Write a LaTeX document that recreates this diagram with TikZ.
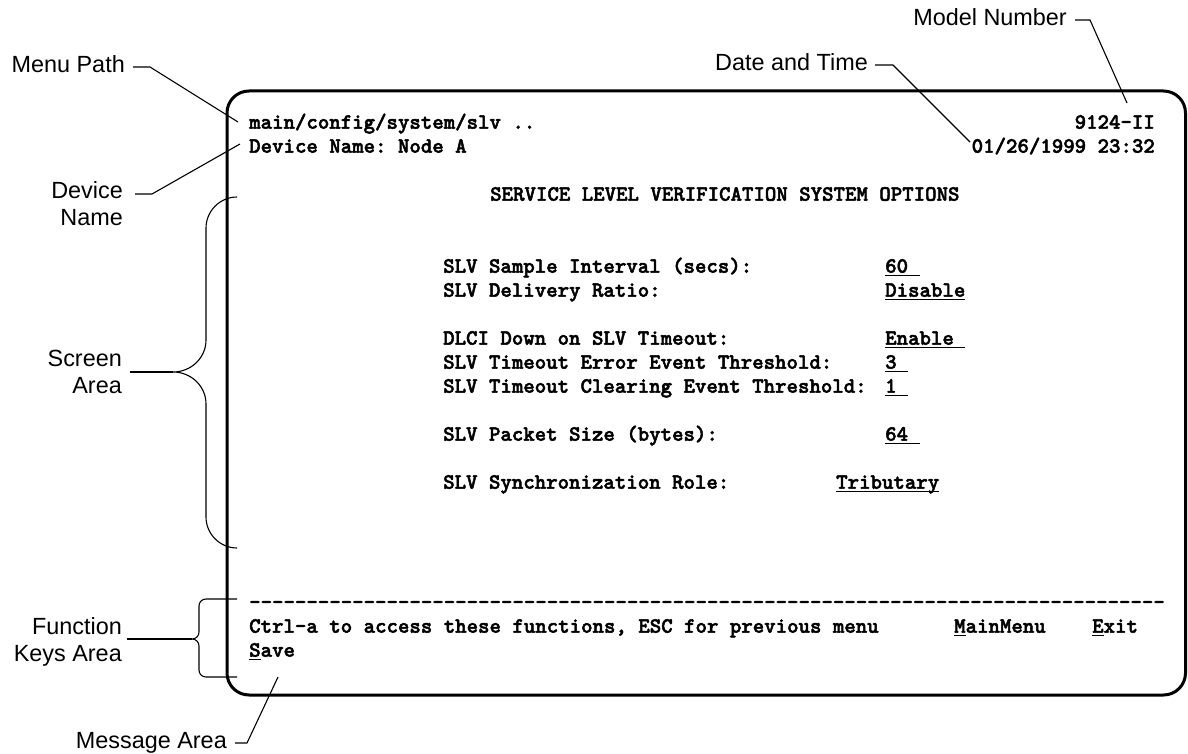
\documentclass[tikz,border=0pt]{standalone}
\usepackage{fontspec}
\setmainfont{Liberation Sans}
\setmonofont{lmmonolt10-bold.otf}[FakeBold=2.2]
\newcommand\ulv[1]{\setbox0\hbox{#1}\rlap{\rule[-3.4pt]{\wd0}{1.5pt}}\box0}
\tikzset{
  lbl/.style={font=\fontsize{23.4}{27}\selectfont, inner sep=0pt, align=right},
  scr/.style={font=\fontsize{21.8}{24}\ttfamily, inner sep=0pt, anchor=base west},
  scrR/.style={scr, anchor=base east},
  leader/.style={line width=1.1pt},
  bracel/.style={line width=1.1pt},
  screenbox/.style={line width=3pt, rounded corners=22pt},
}
\begin{document}
\begin{tikzpicture}[x=1pt,y=-1pt]
\useasboundingbox (0,0) rectangle (1188,754);
% screen
\draw[screenbox] (227,91) rectangle (1185.5,695);

% screen text
\node[scr]  (mpath) at (249,128.7) {main/config/system/slv ..};
\node[scrR] (model) at (1155,128.7) {9124-II};
\node[scr]  (dname) at (249,152.7) {Device Name: Node A};
\node[scrR] (dtime) at (1155,152.7) {01/26/1999 23:32};
\node[scr]  (title) at (490,200.7) {SERVICE LEVEL VERIFICATION SYSTEM OPTIONS};

\node[scr] (l1) at (443,272.7) {SLV Sample Interval (secs):};
\node[scr] (v1) at (885,272.7) {\ulv{60~}};
\node[scr] (l2) at (443,296.7) {SLV Delivery Ratio:};
\node[scr] (v2) at (885,296.7) {\ulv{Disable}};
\node[scr] (l3) at (443,344.7) {DLCI Down on SLV Timeout:};
\node[scr] (v3) at (885,344.7) {\ulv{Enable~}};
\node[scr] (l4) at (443,368.7) {SLV Timeout Error Event Threshold:};
\node[scr] (v4) at (885,368.7) {\ulv{3~}};
\node[scr] (l5) at (443,392.7) {SLV Timeout Clearing Event Threshold:};
\node[scr] (v5) at (885,392.7) {\ulv{1~}};
\node[scr] (l6) at (443,440.7) {SLV Packet Size (bytes):};
\node[scr] (v6) at (885,440.7) {\ulv{64~}};
\node[scr] (l7) at (443,488.7) {SLV Synchronization Role:};
\node[scr] (v7) at (836,488.7) {\ulv{Tributary}};

\node[scr] (dashes) at (249,608.7) {--------------------------------------------------------------------------------};
\node[scr] (ctrl) at (249,632.7) {Ctrl-a to access these functions, ESC for previous menu};
\node[scr] (mmenu) at (954,632.7) {\ulv{M}ainMenu};
\node[scr] (exit) at (1092,632.7) {\ulv{E}xit};
\node[scr] (save) at (249,656.7) {\ulv{S}ave};

% callout labels
\node[lbl, anchor=east] (lModel) at (1067,17) {Model Number};
\node[lbl, anchor=east] (lDate) at (868,62) {Date and Time};
\node[lbl, anchor=east] (lMenu) at (125,64) {Menu Path};
\node[lbl, anchor=east] (lDev) at (123,203.5) {Device\\Name};
\node[lbl, anchor=east] (lScreen) at (122,372) {Screen\\Area};
\node[lbl, anchor=east] (lFunc) at (122,641.5) {Function\\Keys Area};
\node[lbl, anchor=east] (lMsg) at (227,743) {Message Area};

% leader end points
\coordinate (eModel) at (1127,103);
\coordinate (eDate) at (970,142);
\coordinate (eMenu) at (238,122);
\coordinate (eDev) at (240,144);
\coordinate (eMsg) at (278,677);
\coordinate (sbTop) at (237,197);
\coordinate (sbMid) at (173,372);
\coordinate (sbBot) at (237,548);
\coordinate (fbTop) at (237,599);
\coordinate (fbMid) at (192,639);
\coordinate (fbBot) at (237,677);

\draw[leader] ([shift={(8,3)}]lModel.east) -- ++(15,0) -- (eModel);
\draw[leader] ([shift={(7,3)}]lDate.east) -- ++(18,0) -- (eDate);
\draw[leader] ([shift={(8,3)}]lMenu.east) -- ++(17,0) -- (eMenu);
\draw[leader] ([shift={(12,-9.5)}]lDev.east) -- ++(17,0) -- (eDev);
\draw[leader] ([shift={(8,0)}]lMsg.east) -- ++(12,0) -- (eMsg);
\draw[leader] ([shift={(8,0)}]lScreen.east) -- (sbMid);
\draw[leader] ([shift={(5,-2.5)}]lFunc.east) -- (fbMid);

% braces
\draw[bracel] (sbTop) .. controls (220,197) and (206,211) .. (206,228)
  -- (206,340) .. controls (206,358) and (191,372) .. (sbMid)
  .. controls (191,372) and (206,386) .. (206,404)
  -- (206,517) .. controls (206,534) and (220,548) .. (sbBot);
\draw[bracel] (fbTop) -- (206,599) .. controls (202,599) and (199,602) .. (199,606)
  -- (199,632) .. controls (199,636) and (196,639) .. (fbMid)
  .. controls (196,639) and (199,642) .. (199,646)
  -- (199,670) .. controls (199,674) and (202,677) .. (206,677) -- (fbBot);
\end{tikzpicture}
\end{document}
